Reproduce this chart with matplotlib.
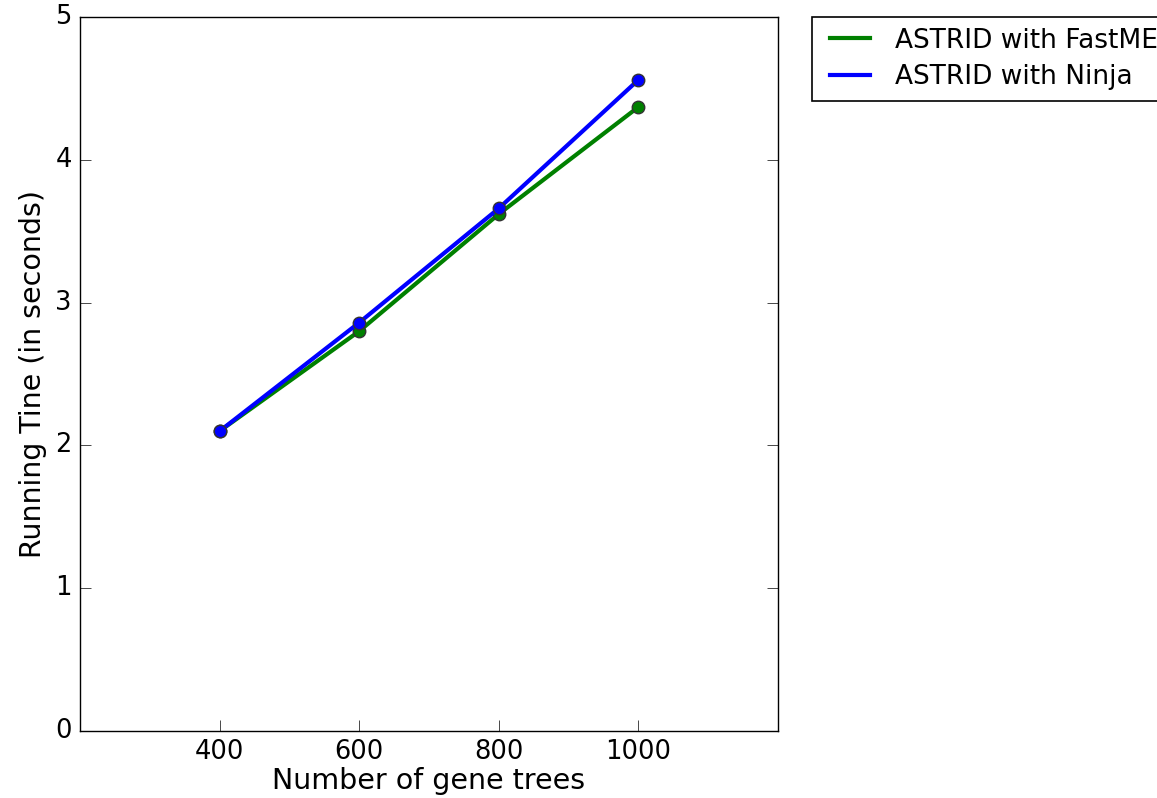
import matplotlib
matplotlib.use("Agg")
import matplotlib.pyplot as plt
from matplotlib.lines import Line2D
from matplotlib.legend_handler import HandlerLine2D

gene_trees = [400, 600, 800, 1000]
fastme_time = [2.10, 2.80, 3.62, 4.37]
ninja_time = [2.10, 2.86, 3.66, 4.56]
series_labels = ["ASTRID with FastME", "ASTRID with Ninja"]

plt.style.use("classic")
plt.rcParams["font.family"] = ["DejaVu Sans"]

fig = plt.figure(figsize=(11.57, 7.98), dpi=100)
fig.patch.set_facecolor("white")
ax = fig.add_axes([80/1157, 1-731/798, (778-80)/1157, (731-17)/798])

ax.plot(gene_trees, fastme_time, "-o", color="green", lw=3, ms=9,
        mec="#333333", mew=1, label=series_labels[0])
ax.plot(gene_trees, ninja_time, "-o", color="blue", lw=3, ms=9,
        mec="#333333", mew=1, label=series_labels[1])

ax.set_xlim(200, 1200)
ax.set_ylim(0, 5)
ax.set_xticks([400, 600, 800, 1000])
ax.set_yticks([0, 1, 2, 3, 4, 5])
ax.tick_params(labelsize=18.5, direction="in", length=8, top=False, right=True, pad=6)
ax.xaxis.set_ticks_position("bottom")
ax.set_xlabel("Number of gene trees", fontsize=20.5, labelpad=1)
ax.set_ylabel("Running Tine (in seconds)", fontsize=20.5, labelpad=6)

leg = ax.legend(loc="upper left", bbox_to_anchor=(812/1157, 1-17/798),
                bbox_transform=fig.transFigure, fontsize=19, numpoints=1,
                handlelength=1.78, handletextpad=0.98, borderaxespad=0,
                borderpad=0.4, fancybox=False, labelspacing=0.4,
                handler_map={Line2D: HandlerLine2D(xpad=0.27)})
for h in leg.legend_handles:
    h.set_marker("")
leg.get_frame().set_linewidth(1.2)

fig.savefig("out.png", dpi=100, facecolor="white")
